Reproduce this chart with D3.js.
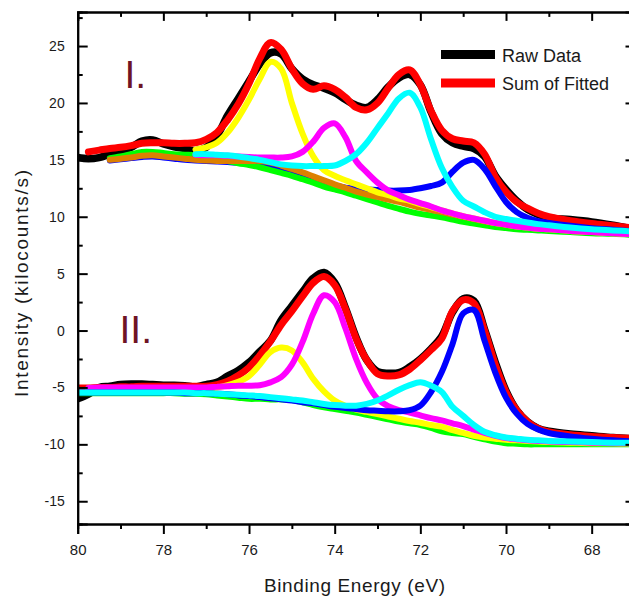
<!DOCTYPE html>
<html>
<head>
<meta charset="utf-8">
<script src="https://cdn.jsdelivr.net/npm/d3@7"></script>
<style>
  body { margin: 0; background: #fff; }
  svg { display: block; font-family: "Liberation Sans", Arial, sans-serif; }
</style>
</head>
<body>
<div id="chart"></div>
<script>
// Binding energy grid (eV), shared by every curve
var energy = [80, 79.75, 79.5, 79.25, 79, 78.75, 78.5, 78.25, 78, 77.75, 77.5, 77.25,
  77, 76.75, 76.5, 76.25, 76, 75.75, 75.5, 75.25, 75, 74.75, 74.5, 74.25,
  74, 73.75, 73.5, 73.25, 73, 72.75, 72.5, 72.25, 72, 71.75, 71.5, 71.25,
  71, 70.75, 70.5, 70.25, 70, 69.75, 69.5, 69.25, 69, 68.5, 68, 67.5, 67];

// Panel I (kilocounts/s)
var rawI = [15.2, 15.1, 15.2, 15.5, 15.8, 16.1, 16.65, 16.75, 16.4, 16.15, 16.0, 15.8,
  16.1, 17.1, 18.9, 20.4, 21.9, 23.4, 24.4, 24.3, 23.0, 22.1, 21.6, 21.3,
  20.9, 20.3, 19.8, 19.6, 20.3, 21.4, 22.2, 22.5, 21.6, 19.2, 17.3, 16.5,
  16.2, 16.0, 15.3, 13.6, 12.4, 11.4, 10.65, 10.2, 9.9, 9.75, 9.55, 9.25, 8.9];
var sumI = [null, 15.7, 15.85, 16.0, 16.1, 16.25, 16.45, 16.5, 16.5, 16.45, 16.45, 16.5,
  16.8, 17.4, 18.5, 19.9, 21.7, 23.9, 25.3, 24.7, 23.0, 21.7, 21.2, 21.5,
  21.2, 20.5, 19.6, 19.4, 20.0, 21.3, 22.5, 22.9, 21.6, 19.3, 17.6, 16.85,
  16.65, 16.5, 15.5, 13.5, 12.2, 11.3, 10.75, 10.3, 10.0, 9.65, 9.4, 9.2, 9.0];
var yellowI = [null, null, null, null, null, null, null, null, null, null, null, 15.9,
  16.1, 16.5, 17.4, 18.7, 20.3, 22.1, 23.6, 23.0, 20.0, 17.3, 15.3, 14.1,
  13.6, 13.2, 12.85, 12.5, 12.15, 11.9, 11.6, 11.4, 11.1, 10.85, 10.55, 10.3,
  10.05, 9.85, 9.65, 9.45, 9.3, 9.15, 9.05, 8.95, 8.9, 8.75, 8.65, 8.55, 8.45];
var magentaI = [null, null, null, null, null, null, null, null, null, null, null, 15.45,
  15.4, 15.4, 15.35, 15.3, 15.25, 15.2, 15.2, 15.2, 15.3, 15.7, 16.6, 17.8,
  18.2, 17.0, 14.9, 13.9, 13.0, 12.3, 11.9, 11.5, 11.2, 10.9, 10.55, 10.3,
  10.05, 9.85, 9.65, 9.45, 9.3, 9.15, 9.05, 8.95, 8.9, 8.75, 8.65, 8.55, 8.45];
var cyanI = [null, null, null, null, null, null, null, null, null, null, null, 15.5,
  15.5, 15.45, 15.4, 15.3, 15.15, 15.0, 14.8, 14.6, 14.5, 14.45, 14.45, 14.45,
  14.5, 14.9, 15.5, 16.5, 17.8, 19.1, 20.4, 20.9, 19.6, 16.8, 14.3, 12.6,
  11.4, 10.9, 10.4, 10.0, 9.8, 9.65, 9.5, 9.35, 9.25, 9.05, 8.9, 8.8, 8.7];
var blueI = [null, null, null, 14.95, 15.05, 15.15, 15.25, 15.3, 15.2, 15.1, 15.0, 14.95,
  14.9, 14.85, 14.8, 14.75, 14.7, 14.6, 14.4, 14.15, 13.9, 13.6, 13.3, 13.0,
  12.75, 12.55, 12.45, 12.4, 12.35, 12.3, 12.3, 12.35, 12.5, 12.7, 13.0, 13.95,
  14.75, 15.0, 14.2, 12.7, 11.3, 10.4, 9.9, 9.6, 9.45, 9.2, 9.0, 8.85, 8.7];
var greenI = [null, null, null, 15.15, 15.3, 15.5, 15.7, 15.7, 15.6, 15.5, 15.45, 15.4,
  15.25, 15.05, 14.9, 14.7, 14.55, 14.35, 14.1, 13.85, 13.6, 13.3, 13.0, 12.65,
  12.4, 12.15, 11.85, 11.55, 11.25, 10.95, 10.7, 10.45, 10.25, 10.1, 9.95, 9.75,
  9.55, 9.4, 9.25, 9.1, 9.0, 8.9, 8.85, 8.8, 8.75, 8.65, 8.55, 8.5, 8.4];
var orangeI = [null, null, null, 15.0, 15.1, 15.2, 15.35, 15.4, 15.3, 15.2, 15.1, 15.0,
  14.95, 14.9, 14.9, 14.9, 14.9, 14.9, 14.75, 14.5, 14.2, 13.9, 13.55, 13.2,
  12.85, 12.55, 12.2, 11.95, 11.75, 11.5, 11.3, 11.05, 10.8, 10.6, 10.4, 10.2,
  10.0, 9.8, 9.6, 9.45, 9.3, 9.2, 9.1, 9.0, 8.95, 8.8, 8.7, 8.6, 8.5];

// Panel II (kilocounts/s)
var rawII = [-6.0, -5.6, -5.0, -4.9, -4.75, -4.7, -4.7, -4.75, -4.8, -4.8, -4.85, -4.95,
  -4.75, -4.55, -4.0, -3.5, -2.8, -1.85, -0.9, 0.9, 2.15, 3.4, 4.6, 5.1,
  4.2, 2.0, -0.6, -2.6, -3.6, -3.75, -3.7, -3.2, -2.5, -1.6, -0.5, 1.6,
  2.8, 2.6, 0.1, -2.8, -5.3, -7.0, -8.0, -8.6, -8.85, -9.1, -9.25, -9.4, -9.5];
var sumII = [-5.05, -5.05, -5.0, -5.0, -4.95, -4.95, -4.9, -4.9, -4.9, -4.9, -4.9, -4.9,
  -4.9, -4.75, -4.45, -3.95, -3.25, -2.2, -0.95, 0.5, 1.7, 3.0, 4.2, 4.75,
  4.0, 1.9, -0.7, -2.6, -3.8, -4.0, -3.9, -3.4, -2.6, -1.7, -0.7, 1.7,
  2.7, 2.4, 0.0, -3.0, -5.4, -7.0, -8.0, -8.6, -8.9, -9.15, -9.3, -9.4, -9.5];
var yellowII = [null, -5.1, -5.1, -5.1, -5.1, -5.1, -5.1, -5.1, -5.1, -5.1, -5.1, -5.05,
  -5.05, -5.0, -4.8, -4.5, -4.0, -3.0, -1.9, -1.5, -1.75, -2.8, -4.25, -5.35,
  -6.15, -6.6, -6.95, -7.15, -7.35, -7.55, -7.75, -7.95, -8.1, -8.3, -8.45, -8.75,
  -9.0, -9.25, -9.4, -9.5, -9.6, -9.65, -9.7, -9.75, -9.8, -9.85, -9.9, -9.9, -9.95];
var magentaII = [null, -5.05, -5.0, -5.0, -5.0, -5.0, -5.0, -5.0, -5.0, -5.0, -5.0, -5.0,
  -5.0, -4.95, -4.9, -4.85, -4.85, -4.8, -4.55, -4.1, -3.0, -1.0, 1.5, 3.1,
  2.5, 0.2, -2.5, -4.6, -6.0, -6.65, -7.0, -7.2, -7.45, -7.7, -7.9, -8.15,
  -8.4, -8.7, -9.0, -9.25, -9.45, -9.55, -9.65, -9.7, -9.75, -9.8, -9.85, -9.9, -9.9];
var blueII = [-5.45, -5.45, -5.45, -5.45, -5.45, -5.45, -5.45, -5.45, -5.45, -5.45, -5.5, -5.5,
  -5.5, -5.55, -5.6, -5.7, -5.75, -5.85, -5.95, -6.05, -6.15, -6.3, -6.4, -6.55,
  -6.7, -6.8, -6.9, -7.0, -7.05, -7.1, -7.1, -7.0, -6.6, -5.4, -3.65, -1.2,
  1.5, 1.8, -0.9, -3.7, -5.9, -7.3, -8.2, -8.7, -9.0, -9.3, -9.5, -9.65, -9.75];
var greenII = [-5.5, -5.5, -5.5, -5.5, -5.5, -5.5, -5.5, -5.5, -5.5, -5.5, -5.55, -5.55,
  -5.6, -5.7, -5.8, -5.9, -6.0, -6.0, -6.05, -6.05, -6.1, -6.3, -6.55, -6.75,
  -6.9, -7.05, -7.2, -7.4, -7.6, -7.8, -8.0, -8.15, -8.3, -8.55, -8.85, -9.0,
  -9.1, -9.35, -9.55, -9.75, -9.9, -9.95, -10.0, -10.0, -10.0, -10.0, -10.0, -10.0, -10.0];
var cyanII = [-5.45, -5.45, -5.45, -5.45, -5.45, -5.45, -5.45, -5.45, -5.45, -5.45, -5.45, -5.5,
  -5.5, -5.55, -5.6, -5.65, -5.7, -5.75, -5.85, -5.95, -6.05, -6.15, -6.3, -6.45,
  -6.55, -6.6, -6.6, -6.45, -6.15, -5.7, -5.2, -4.8, -4.55, -4.85, -5.4, -6.7,
  -7.5, -8.3, -8.9, -9.2, -9.4, -9.5, -9.6, -9.65, -9.7, -9.75, -9.8, -9.85, -9.85];

// Ticks and labels
var xMajor = [80, 78, 76, 74, 72, 70, 68];
var xMinor = [79, 77, 75, 73, 71, 69, 67];
var yMajor = [25, 20, 15, 10, 5, 0, -5, -10, -15];
var yMinor = [27.5, 22.5, 17.5, 12.5, 7.5, 2.5, -2.5, -7.5, -12.5];
var legendNames = ["Raw Data", "Sum of Fitted"];
var panelNames = ["I.", "II."];

// SVG size and plot frame
var svgWidth = 629;
var svgHeight = 598;
var frame = { left: 77.7, right: 634.5, top: 11.9, bottom: 524 };

var svg = d3.select("#chart")
  .append("svg")
  .attr("width", svgWidth)
  .attr("height", svgHeight);

// Scales (binding energy runs right to left)
var x = d3.scaleLinear().domain([80, 67]).range([frame.left, frame.right]);
var y = d3.scaleLinear().domain([-17, 28]).range([frame.bottom, frame.top]);

svg.append("clipPath")
  .attr("id", "plotClip")
  .append("rect")
  .attr("x", frame.left)
  .attr("y", frame.top)
  .attr("width", frame.right - frame.left)
  .attr("height", frame.bottom - frame.top);

// Curves
var line = d3.line()
  .defined(d => d[1] != null)
  .x(d => x(d[0]))
  .y(d => y(d[1]))
  .curve(d3.curveCatmullRom.alpha(0.5));

// drawing order matters: later curves sit on top
var series = [
  { values: rawI, color: "#000000", w: 7.5 },
  { values: rawII, color: "#000000", w: 7.5 },
  { values: sumI, color: "#ff0000", w: 7 },
  { values: sumII, color: "#ff0000", w: 7 },
  { values: blueI, color: "#0000ff", w: 6 },
  { values: greenI, color: "#00ff00", w: 6 },
  { values: greenII, color: "#00ff00", w: 6 },
  { values: orangeI, color: "#dd8000", w: 6 },
  { values: yellowI, color: "#ffff00", w: 6 },
  { values: yellowII, color: "#ffff00", w: 6 },
  { values: magentaI, color: "#ff00ff", w: 6 },
  { values: magentaII, color: "#ff00ff", w: 6 },
  { values: blueII, color: "#0000ff", w: 6 },
  { values: cyanI, color: "#00ffff", w: 6 },
  { values: cyanII, color: "#00ffff", w: 6 }
];

var curveGroup = svg.append("g").attr("clip-path", "url(#plotClip)");

curveGroup.selectAll("path")
  .data(series)
  .enter()
  .append("path")
  .attr("d", s => line(energy.map((e, i) => [e, s.values[i]])))
  .attr("fill", "none")
  .attr("stroke", s => s.color)
  .attr("stroke-width", s => s.w)
  .attr("stroke-linejoin", "round")
  .attr("stroke-linecap", "round");

// Axes: bottom ticks outward, the other three sides inward
function styleAxis(g) {
  g.select(".domain").attr("stroke", "#000").attr("stroke-width", 2);
  g.selectAll(".tick line").attr("stroke", "#000").attr("stroke-width", 2);
  g.selectAll(".tick text").attr("fill", "#1a1a1a");
}

svg.append("g")
  .attr("transform", `translate(0, ${frame.bottom})`)
  .call(d3.axisBottom(x).tickValues(xMinor).tickSize(5).tickFormat(""))
  .call(styleAxis);

svg.append("g")
  .attr("transform", `translate(0, ${frame.bottom})`)
  .call(d3.axisBottom(x).tickValues(xMajor).tickSize(10).tickPadding(10).tickFormat(d => String(d)))
  .call(styleAxis)
  .selectAll("text")
  .attr("font-size", 15)
  .attr("font-family", "Liberation Sans, Arial, sans-serif");

svg.append("g")
  .attr("transform", `translate(0, ${frame.top})`)
  .call(d3.axisBottom(x).tickValues(xMinor).tickSize(5).tickFormat(""))
  .call(styleAxis);

svg.append("g")
  .attr("transform", `translate(0, ${frame.top})`)
  .call(d3.axisBottom(x).tickValues(xMajor).tickSize(9).tickFormat(""))
  .call(styleAxis);

svg.append("g")
  .attr("transform", `translate(${frame.left}, 0)`)
  .call(d3.axisLeft(y).tickValues(yMinor).tickSize(-5).tickFormat(""))
  .call(styleAxis);

svg.append("g")
  .attr("transform", `translate(${frame.left}, 0)`)
  .call(d3.axisLeft(y).tickValues(yMajor).tickSize(-10).tickPadding(13).tickFormat(d => String(d)))
  .call(styleAxis)
  .selectAll("text")
  .attr("font-size", 14)
  .attr("font-family", "Liberation Sans, Arial, sans-serif");

svg.append("g")
  .attr("transform", `translate(${frame.right}, 0)`)
  .call(d3.axisRight(y).tickValues(yMajor).tickSize(-9).tickFormat(""))
  .call(styleAxis);

// Axis titles
svg.append("text")
  .attr("x", 264)
  .attr("y", 591.5)
  .attr("font-size", 19)
  .attr("fill", "#1a1a1a")
  .attr("textLength", 181)
  .attr("lengthAdjust", "spacing")
  .text("Binding Energy (eV)");

svg.append("text")
  .attr("transform", "rotate(-90)")
  .attr("x", -283.5)
  .attr("y", 28)
  .attr("text-anchor", "middle")
  .attr("font-size", 19)
  .attr("fill", "#1a1a1a")
  .attr("textLength", 227)
  .attr("lengthAdjust", "spacing")
  .text("Intensity (kilocounts/s)");

// Panel labels
svg.append("text")
  .attr("x", 124.5)
  .attr("y", 88.3)
  .attr("font-size", 39)
  .attr("fill", "#6e1424")
  .text(panelNames[0]);

svg.append("text")
  .attr("x", 119.5)
  .attr("y", 343.3)
  .attr("font-size", 39)
  .attr("fill", "#6e1424")
  .text(panelNames[1]);

// Legend
var legendColors = ["#000000", "#ff0000"];
var legend = svg.append("g");

legend.selectAll("line")
  .data(legendNames)
  .enter()
  .append("line")
  .attr("x1", 441)
  .attr("x2", 495)
  .attr("y1", (d, i) => 54.5 + i * 28.5)
  .attr("y2", (d, i) => 54.5 + i * 28.5)
  .attr("stroke", (d, i) => legendColors[i])
  .attr("stroke-width", 9);

legend.selectAll("text")
  .data(legendNames)
  .enter()
  .append("text")
  .attr("x", 502)
  .attr("y", (d, i) => 61.5 + i * 28.5)
  .attr("font-size", 18)
  .attr("fill", "#1a1a1a")
  .text(d => d);
</script>
</body>
</html>
